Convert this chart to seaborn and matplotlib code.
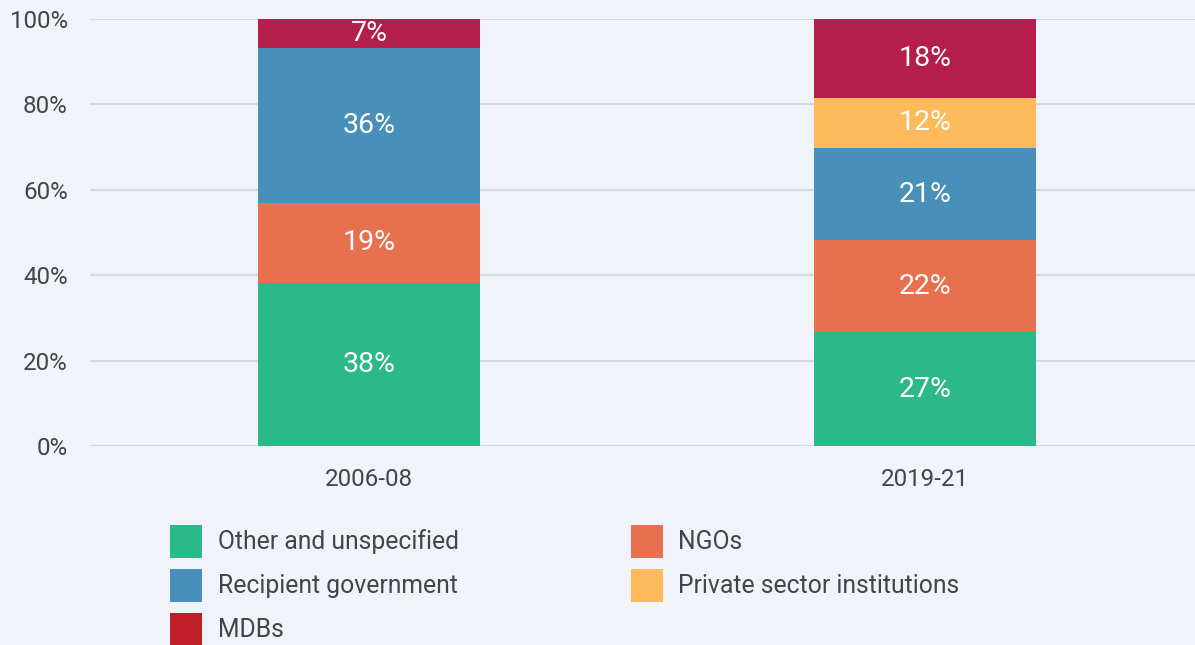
import matplotlib

matplotlib.use("Agg")
import matplotlib.pyplot as plt
import pandas as pd
import seaborn as sns
from matplotlib.patches import Patch

# data (percent of total)
periods = ["2006-08", "2019-21"]
categories = [
    "Other and unspecified",
    "NGOs",
    "Recipient government",
    "Private sector institutions",
    "MDBs",
]
other_unspecified = [38.2, 26.6]
ngos = [18.7, 21.7]
recipient_government = [36.4, 21.4]
private_sector = [0.0, 11.9]
mdbs = [6.7, 18.4]

bar_colors = ["#2BB98A", "#E7704E", "#4890BA", "#FCBA5A", "#B51E4C"]
legend_colors = ["#2BB98A", "#E7704E", "#4890BA", "#FCBA5A", "#C01F27"]
bg = "#F0F4FA"
text_color = "#444444"

sns.set_theme(style="white")
plt.rcParams["font.family"] = ["Roboto", "DejaVu Sans"]

df = pd.DataFrame(
    {
        "period": periods,
        categories[0]: other_unspecified,
        categories[1]: ngos,
        categories[2]: recipient_government,
        categories[3]: private_sector,
        categories[4]: mdbs,
    }
)
cum = df[categories].cumsum(axis=1)

fig = plt.figure(figsize=(11.95, 6.45), dpi=100, facecolor=bg)
ax = fig.add_axes([90 / 1195, 1 - 446 / 645, 1 - 90 / 1195, (446 - 19) / 645])
ax.set_facecolor(bg)

# draw cumulative totals from the top layer down so each layer overlays the next
for cat, color in reversed(list(zip(categories, bar_colors))):
    sns.barplot(
        x=df["period"], y=cum[cat], color=color, width=0.4,
        linewidth=0, saturation=1, ax=ax, zorder=3,
    )

# value labels centered in each segment
for i in range(len(periods)):
    for cat in categories:
        v = df.loc[i, cat]
        if v <= 0:
            continue
        ax.text(
            i, cum.loc[i, cat] - v / 2, f"{round(v)}%",
            ha="center", va="center", color="white", fontsize=20.5, zorder=4,
        )

ax.set_xlim(-0.502, 1.486)
ax.set_ylim(0, 100)
ax.set_yticks([0, 20, 40, 60, 80, 100])
ax.set_yticklabels([f"{t}%" for t in [0, 20, 40, 60, 80, 100]])
ax.set_xlabel("")
ax.set_ylabel("")
ax.yaxis.grid(True, color="#D5D8DD", linewidth=1.6, zorder=0)
ax.set_axisbelow(True)
for s in ax.spines.values():
    s.set_visible(False)
ax.tick_params(axis="both", length=0, labelsize=17.4, colors=text_color, pad=16)

handles = [Patch(facecolor=c, edgecolor="none") for c in legend_colors]
order = [0, 2, 4, 1, 3]
fig.legend(
    [handles[k] for k in order], [categories[k] for k in order],
    ncol=2, loc="upper left", bbox_to_anchor=(170 / 1195, 1 - 525 / 645),
    frameon=False, fontsize=17.8, labelcolor=text_color,
    handlelength=1.3, handleheight=1.67, handletextpad=0.63,
    labelspacing=0.44, columnspacing=6.95, borderpad=0, borderaxespad=0,
)

fig.savefig("out.png", dpi=100, facecolor=bg)
